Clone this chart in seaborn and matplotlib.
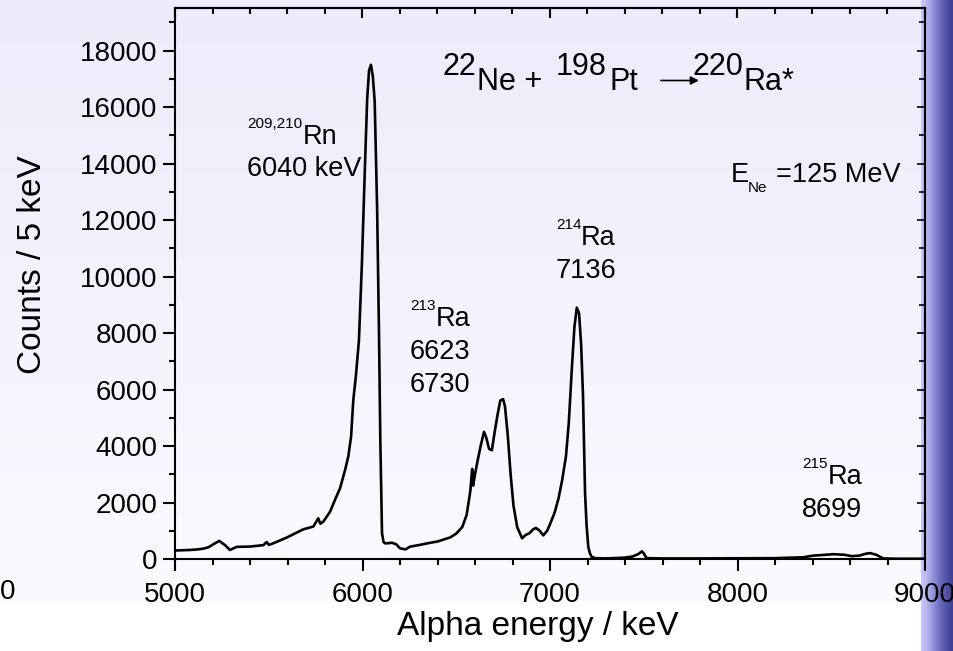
import numpy as np
import matplotlib
matplotlib.use("Agg")
import matplotlib.pyplot as plt
from matplotlib.ticker import FixedLocator, MultipleLocator
import seaborn as sns

# ---------------- data ----------------
energy_kev = [5000, 5040, 5080, 5120, 5151, 5180, 5204, 5236, 5267, 5293, 5329, 5400,
              5471, 5489, 5500, 5524, 5596, 5684, 5738, 5764, 5775, 5791, 5827, 5853,
              5880, 5907, 5924, 5939, 5951, 5965, 5981, 5997, 6013, 6025, 6035, 6045,
              6055, 6065, 6078, 6088, 6095, 6104, 6112, 6120, 6140, 6156, 6180, 6200,
              6230, 6253, 6303, 6350, 6400, 6468, 6500, 6532, 6555, 6575, 6585, 6590,
              6600, 6614, 6630, 6648, 6660, 6675, 6690, 6705, 6720, 6735, 6750, 6760,
              6775, 6790, 6805, 6825, 6851, 6870, 6890, 6910, 6925, 6945, 6964, 6985,
              7003, 7025, 7046, 7065, 7085, 7100, 7117, 7130, 7143, 7155, 7166, 7176,
              7187, 7195, 7204, 7213, 7222, 7240, 7300, 7400, 7440, 7470, 7490, 7500,
              7515, 7600, 7800, 8000, 8200, 8350, 8403, 8450, 8511, 8570, 8610, 8650,
              8680, 8707, 8740, 8778, 8850, 9000]
counts = [300, 310, 320, 340, 366, 420, 520, 640, 490, 320, 430, 440,
          490, 600, 500, 555, 760, 1050, 1150, 1440, 1250, 1320, 1675, 2090,
          2500, 3150, 3620, 4330, 5630, 6500, 7741, 10500, 13900, 16300, 17300, 17500,
          17100, 16200, 12400, 8000, 4200, 920, 600, 555, 560, 578, 520, 378,
          340, 437, 496, 560, 620, 764, 900, 1131, 1550, 2400, 3190, 2600,
          3000, 3482, 4000, 4500, 4300, 3900, 3850, 4500, 5100, 5612, 5660, 5400,
          4363, 3000, 1900, 1131, 734, 850, 911, 1050, 1100, 1000, 837, 1000,
          1278, 1650, 2159, 2800, 3628, 4800, 6800, 8200, 8900, 8700, 7600, 5800,
          2330, 1200, 437, 200, 80, 30, 20, 50, 90, 170, 270, 200,
          30, 20, 20, 25, 30, 60, 120, 140, 170, 150, 100, 120,
          180, 210, 150, 20, 10, 10]
x_ticks = [5000, 6000, 7000, 8000, 9000]
y_ticks = [0, 2000, 4000, 6000, 8000, 10000, 12000, 14000, 16000, 18000]

# ---------------- style ----------------
sns.set_theme(style="ticks", rc={
    "axes.edgecolor": "black", "axes.linewidth": 1.5,
    "xtick.color": "black", "ytick.color": "black",
    "text.color": "black", "axes.labelcolor": "black",
})
plt.rcParams["font.family"] = ["Liberation Sans", "DejaVu Sans"]

W, H = 954, 651
fig = plt.figure(figsize=(W / 100, H / 100), dpi=100)

# ---------------- background (vertical wash + blue side bar) ----------------
bg = fig.add_axes([0, 0, 1, 1], zorder=-10)
bg.set_axis_off()
img = np.ones((H, W, 3))
top = np.array([236, 236, 251]) / 255.0
bot = np.array([250, 250, 255]) / 255.0
yy = np.arange(H)
frac = np.clip(yy / 602.0, 0, 1)[:, None]
wash = top + (bot - top) * frac
wash[yy >= 602] = 1.0
img[:, :, :] = wash[:, None, :]
bx = np.arange(921, W)
stops_x = [921, 926, 932, 940, 948, 954]
stops_c = np.array([[200, 200, 250], [184, 184, 240], [150, 150, 220],
                    [105, 105, 186], [75, 75, 160], [58, 58, 145]]) / 255.0
for ch in range(3):
    img[:, 921:, ch] = np.interp(bx, stops_x, stops_c[:, ch])[None, :]
bg.imshow(img, aspect="auto", extent=[0, W, H, 0], interpolation="bilinear")
bg.set_xlim(0, W)
bg.set_ylim(H, 0)

# ---------------- main axes ----------------
ax = fig.add_axes([175 / W, (H - 559) / H, 750 / W, (559 - 8.3) / H])
ax.patch.set_alpha(0)
sns.lineplot(x=energy_kev, y=counts, ax=ax, color="black", linewidth=1.9,
             estimator=None, sort=False)
ax.set_xlim(5000, 9000)
ax.set_ylim(0, 19500)
ax.xaxis.set_major_locator(FixedLocator(x_ticks))
ax.xaxis.set_minor_locator(MultipleLocator(200))
ax.yaxis.set_major_locator(FixedLocator(y_ticks))
ax.yaxis.set_minor_locator(MultipleLocator(1000))
ax.tick_params(which="major", direction="out", length=8.6, width=1.5,
               labelsize=20, pad=4)
ax.tick_params(axis="x", which="major", pad=8)
ax.tick_params(which="minor", direction="out", length=4.3, width=1.5)
for s in ax.spines.values():
    s.set_linewidth(1.5)
    s.set_visible(True)

# inward ticks on top and right
sx = ax.secondary_xaxis("top")
sx.xaxis.set_major_locator(FixedLocator(x_ticks))
sx.xaxis.set_minor_locator(MultipleLocator(200))
sx.tick_params(which="major", direction="in", length=7, width=1.5, labeltop=False)
sx.tick_params(which="minor", direction="in", length=4.5, width=1.5)
sy = ax.secondary_yaxis("right")
sy.yaxis.set_major_locator(FixedLocator(y_ticks))
sy.yaxis.set_minor_locator(MultipleLocator(1000))
sy.tick_params(which="major", direction="in", length=6, width=1.2, labelright=False)
sy.tick_params(which="minor", direction="in", length=4, width=1.2)

ax.set_xlabel("Alpha energy / keV", fontsize=24, va="baseline")
ax.xaxis.set_label_coords((538 - 175) / 750, (559 - 635) / 550.7)
ax.set_ylabel("Counts / 5 keV", fontsize=24, va="center")
ax.yaxis.set_label_coords((33 - 175) / 750, (559 - 265) / 550.7)


def ftxt(x, y, s, size, **kw):
    fig.text(x / W, 1 - y / H, s, fontsize=size, ha="left", va="baseline",
             color="black", **kw)


# reaction title
ftxt(442, 75, "22", 22)
ftxt(477, 90, "Ne +", 22)
ftxt(556, 75, "198", 22)
ftxt(610, 90, "Pt", 22)
ftxt(693, 75, "220", 22)
ftxt(744, 90, "Ra*", 22)
ax.annotate("", xy=(699 / W, 1 - 80.5 / H), xytext=(661 / W, 1 - 80.5 / H),
            xycoords="figure fraction", textcoords="figure fraction",
            arrowprops=dict(arrowstyle="-|>", lw=1.2, color="black",
                            mutation_scale=12, shrinkA=0, shrinkB=0))

# beam energy
ftxt(731, 182, "E", 19.5)
ftxt(748, 192, "Ne", 11)
ftxt(776, 182, "=125 MeV", 19.5)

# peak labels
ftxt(247, 128, "209,210", 11)
ftxt(303, 144, "Rn", 19.5)
ftxt(247, 176, "6040 keV", 19.5)

ftxt(410, 310, "213", 11)
ftxt(436, 326, "Ra", 19.5)
ftxt(410, 359, "6623", 19.5)
ftxt(410, 392, "6730", 19.5)

ftxt(556, 229, "214", 11)
ftxt(581, 245, "Ra", 19.5)
ftxt(556, 278, "7136", 19.5)

ftxt(802, 468, "215", 11)
ftxt(828, 484, "Ra", 19.5)
ftxt(802, 517, "8699", 19.5)

# stray clipped tick label at the far left
fig.text(15 / W, 1 - 592 / H, "0", fontsize=20, ha="right", va="center",
         color="black")

fig.savefig("out.png", dpi=100)
